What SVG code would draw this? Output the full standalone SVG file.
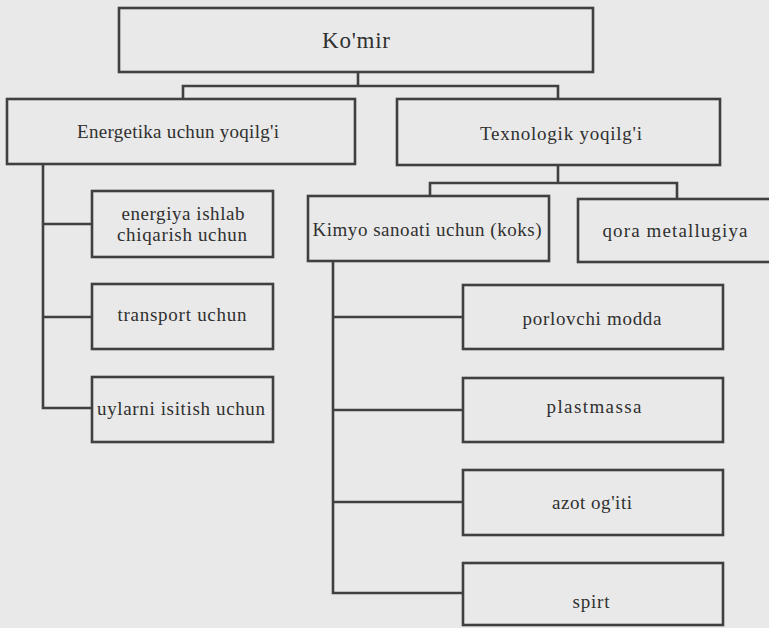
<svg xmlns="http://www.w3.org/2000/svg" width="769" height="628" viewBox="0 0 769 628">
<style>
.box{fill:none;stroke:#404040;stroke-width:2.6}
.ln{fill:none;stroke:#404040;stroke-width:2.6}
.t{font-family:'Liberation Serif','Times New Roman',Times,serif;fill:#303030;font-size:19px;text-anchor:middle}
.big{font-size:23px}
</style>
<rect x="0" y="0" width="769" height="628" fill="#e9e9e9"/>
<g id="connectors">
<path class="ln" d="M358 72V86M183 99V86H558V99"/>
<path class="ln" d="M43 164V408H92M43 224H92M43 317H92"/>
<path class="ln" d="M558 165V183M430 197V183H677V199"/>
<path class="ln" d="M333 261V593H463M333 317H463M333 410H463M333 502H463"/>
</g>
<g id="komir"><rect class="box" x="119" y="8" width="474" height="64"/><text class="t big" x="356" y="48" textLength="68">Ko'mir</text></g>
<g id="energetika"><rect class="box" x="7" y="99" width="348" height="65"/><text class="t" x="178" y="138" textLength="202">Energetika uchun yoqilg'i</text></g>
<g id="texnologik"><rect class="box" x="397" y="99" width="323" height="66"/><text class="t" x="561" y="140" textLength="162">Texnologik yoqilg'i</text></g>
<g id="energiya"><rect class="box" x="92" y="191" width="181" height="66"/><text class="t" x="183" y="220" textLength="123">energiya ishlab</text><text class="t" x="182" y="241" textLength="130">chiqarish uchun</text></g>
<g id="transport"><rect class="box" x="92" y="284" width="181" height="65"/><text class="t" x="182" y="321" textLength="129">transport uchun</text></g>
<g id="uylarni"><rect class="box" x="92" y="377" width="181" height="65"/><text class="t" x="181" y="415" textLength="168">uylarni isitish uchun</text></g>
<g id="kimyo"><rect class="box" x="308" y="196" width="241" height="65"/><text class="t" x="427" y="236" textLength="229">Kimyo sanoati uchun (koks)</text></g>
<g id="qora"><rect class="box" x="578" y="199" width="200" height="63"/><text class="t" x="675" y="237" textLength="145">qora metallugiya</text></g>
<g id="porlovchi"><rect class="box" x="463" y="285" width="260" height="64"/><text class="t" x="592" y="325" textLength="139">porlovchi modda</text></g>
<g id="plastmassa"><rect class="box" x="463" y="378" width="260" height="64"/><text class="t" x="594" y="413" textLength="95">plastmassa</text></g>
<g id="azot"><rect class="box" x="463" y="470" width="260" height="65"/><text class="t" x="592" y="509" textLength="80">azot og'iti</text></g>
<g id="spirt"><rect class="box" x="463" y="563" width="260" height="62"/><text class="t" x="591" y="608" textLength="37">spirt</text></g>
</svg>
